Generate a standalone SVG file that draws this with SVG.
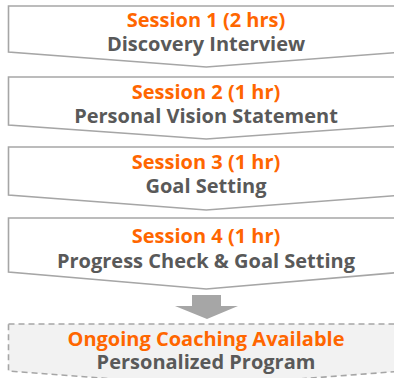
<svg xmlns="http://www.w3.org/2000/svg" width="394" height="378" viewBox="0 0 394 378">
<style>
.box{fill:#ffffff;stroke:#a6a6a6;stroke-width:1.6;stroke-linejoin:miter}
.dash{fill:#f2f2f2;stroke:#a6a6a6;stroke-width:1.6;stroke-dasharray:6 4}
.t1{font-family:"Open Sans","Liberation Sans",sans-serif;font-weight:bold;font-size:20px;fill:#ff6600;text-anchor:middle}
.t2{font-family:"Open Sans","Liberation Sans",sans-serif;font-weight:bold;font-size:20px;fill:#595959;text-anchor:middle}
.arrow{fill:#a6a6a6}
</style>
<rect width="394" height="378" fill="#ffffff"/>
<g id="session1">
<path class="box" d="M8.5,6 H404 V52 L206.25,67 L8.5,52 Z"/>
<text class="t1" x="206" y="26.5">Session 1 (2 hrs)</text>
<text class="t2" x="206" y="50.5">Discovery Interview</text>
</g>
<g id="session2">
<path class="box" d="M8.5,77 H404 V125 L206.25,139 L8.5,125 Z"/>
<text class="t1" x="206" y="99">Session 2 (1 hr)</text>
<text class="t2" x="206" y="122.5">Personal Vision Statement</text>
</g>
<g id="session3">
<path class="box" d="M8.5,147 H404 V195 L206.25,210 L8.5,195 Z"/>
<text class="t1" x="206" y="168.5">Session 3 (1 hr)</text>
<text class="t2" x="206" y="192.5">Goal Setting</text>
</g>
<g id="session4">
<path class="box" d="M8.5,218 H404 V272 L206.25,289 L8.5,272 Z"/>
<text class="t1" x="206" y="243">Session 4 (1 hr)</text>
<text class="t2" x="206" y="267.5">Progress Check &amp; Goal Setting</text>
</g>
<g id="connectors">
<path class="arrow" d="M192,295 H221 V306 H238 L207,319 L175,306 H192 Z"/>
</g>
<g id="ongoing">
<path class="dash" d="M8.5,324 H404 V371 L206.25,386 L8.5,371 Z"/>
<text class="t1" x="206" y="346">Ongoing Coaching Available</text>
<text class="t2" x="206" y="369">Personalized Program</text>
</g>
</svg>
